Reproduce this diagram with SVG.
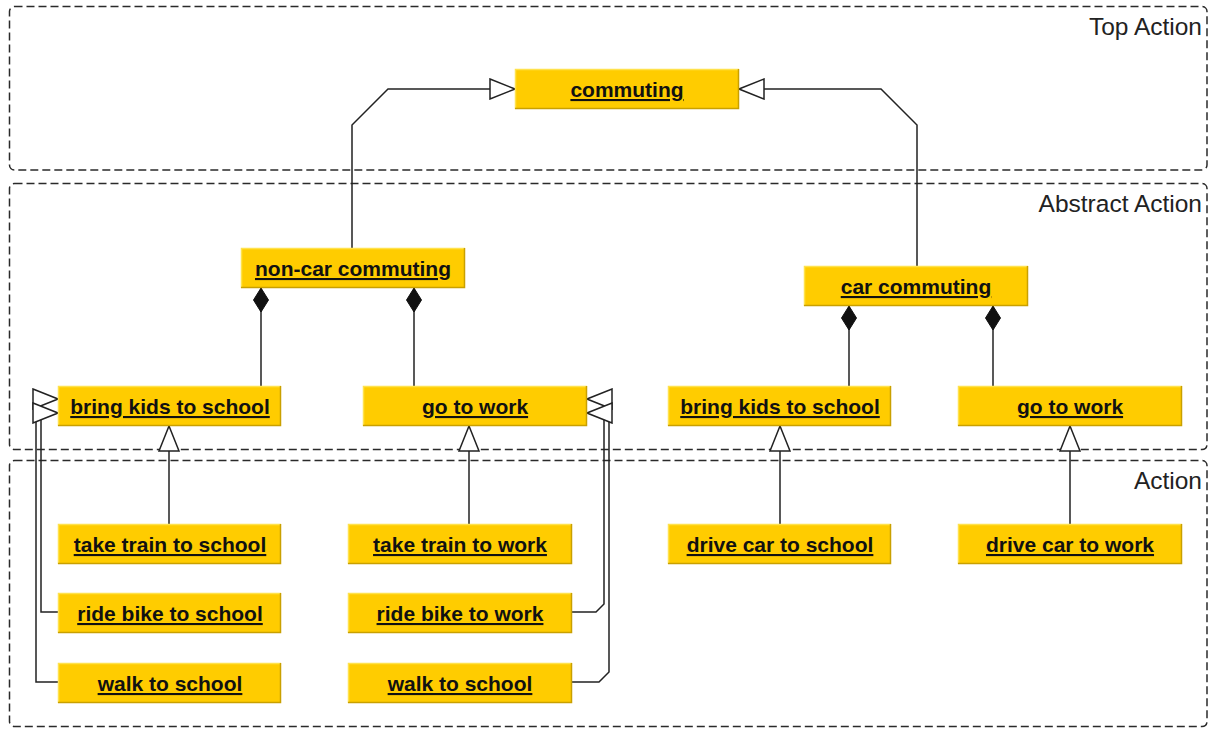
<svg xmlns="http://www.w3.org/2000/svg" width="1211" height="729" viewBox="0 0 1211 729">
<style>
.frame{fill:none;stroke:#2a2a2a;stroke-width:1.5;stroke-dasharray:8 4}
.flabel{font-family:"Liberation Sans",Arial,sans-serif;font-size:24.5px;fill:#222;text-anchor:end}
.box{fill:#FFCC00}
.hl{stroke:#FFE24D;stroke-width:1.5;fill:none}
.sh{stroke:#C9A000;stroke-width:1.5;fill:none}
.lbl{font-family:"Liberation Sans",Arial,sans-serif;font-size:21px;font-weight:bold;fill:#111;text-anchor:middle;text-decoration:underline}
.conn{fill:none;stroke:#222;stroke-width:1.5}
</style>
<defs>
<marker id="gen" viewBox="0 0 27 22" refX="26" refY="11" markerWidth="27" markerHeight="22" markerUnits="userSpaceOnUse" orient="auto">
<path d="M1,1 L26,11 L1,21 Z" fill="#fff" stroke="#222" stroke-width="1.5"/>
</marker>
<marker id="dia" viewBox="0 0 24 18" refX="0" refY="9" markerWidth="24" markerHeight="18" markerUnits="userSpaceOnUse" orient="auto">
<path d="M0,9 L12,1.5 L24,9 L12,16.5 Z" fill="#111" stroke="#111" stroke-width="1"/>
</marker>
</defs>

<g id="frames">
<rect class="frame" x="9.5" y="6.5" width="1197.5" height="163.5" rx="5"/>
<text class="flabel" x="1202" y="35">Top Action</text>
<rect class="frame" x="9.5" y="183.5" width="1197.5" height="266" rx="5"/>
<text class="flabel" x="1202" y="212">Abstract Action</text>
<rect class="frame" x="9.5" y="460.5" width="1197.5" height="266" rx="5"/>
<text class="flabel" x="1202" y="489">Action</text>
</g>

<g id="connectors">
<path class="conn" d="M352,248 V125 L388,89 H515" marker-end="url(#gen)"/>
<path class="conn" d="M917,266 V125 L881,89 H739" marker-end="url(#gen)"/>
<path class="conn" d="M261,288 V386" marker-start="url(#dia)"/>
<path class="conn" d="M414,288 V386" marker-start="url(#dia)"/>
<path class="conn" d="M849,306 V386" marker-start="url(#dia)"/>
<path class="conn" d="M993,306 V386" marker-start="url(#dia)"/>
<path class="conn" d="M169,524 V426" marker-end="url(#gen)"/>
<path class="conn" d="M469,524 V426" marker-end="url(#gen)"/>
<path class="conn" d="M780,524 V426" marker-end="url(#gen)"/>
<path class="conn" d="M1070,524 V426" marker-end="url(#gen)"/>
<path class="conn" d="M58,682 H36 V399 H58" marker-end="url(#gen)"/>
<path class="conn" d="M58,612 H41 V413 H58" marker-end="url(#gen)"/>
<path class="conn" d="M572,682 H599 L609,672 V399 H587" marker-end="url(#gen)"/>
<path class="conn" d="M572,612 H596 L604,604 V413 H587" marker-end="url(#gen)"/>
</g>

<g id="n-commuting"><rect class="box" x="515" y="69" width="224" height="40"/><path class="hl" d="M515.5,109 V69.5 H739"/><path class="sh" d="M515,108.5 H738.5 V69"/><text class="lbl" x="627" y="97">commuting</text></g>
<g id="n-noncar"><rect class="box" x="241" y="248" width="224" height="40"/><path class="hl" d="M241.5,288 V248.5 H465"/><path class="sh" d="M241,287.5 H464.5 V248"/><text class="lbl" x="353" y="276">non-car commuting</text></g>
<g id="n-car"><rect class="box" x="804" y="266" width="224" height="40"/><path class="hl" d="M804.5,306 V266.5 H1028"/><path class="sh" d="M804,305.5 H1027.5 V266"/><text class="lbl" x="916" y="294">car commuting</text></g>
<g id="n-bk1"><rect class="box" x="58" y="386" width="223" height="40"/><path class="hl" d="M58.5,426 V386.5 H281"/><path class="sh" d="M58,425.5 H280.5 V386"/><text class="lbl" x="170" y="414">bring kids to school</text></g>
<g id="n-gw1"><rect class="box" x="363" y="386" width="224" height="40"/><path class="hl" d="M363.5,426 V386.5 H587"/><path class="sh" d="M363,425.5 H586.5 V386"/><text class="lbl" x="475" y="414">go to work</text></g>
<g id="n-bk2"><rect class="box" x="668" y="386" width="223" height="40"/><path class="hl" d="M668.5,426 V386.5 H891"/><path class="sh" d="M668,425.5 H890.5 V386"/><text class="lbl" x="780" y="414">bring kids to school</text></g>
<g id="n-gw2"><rect class="box" x="958" y="386" width="224" height="40"/><path class="hl" d="M958.5,426 V386.5 H1182"/><path class="sh" d="M958,425.5 H1181.5 V386"/><text class="lbl" x="1070" y="414">go to work</text></g>
<g id="n-tts"><rect class="box" x="58" y="524" width="223" height="40"/><path class="hl" d="M58.5,564 V524.5 H281"/><path class="sh" d="M58,563.5 H280.5 V524"/><text class="lbl" x="170" y="552">take train to school</text></g>
<g id="n-rbs"><rect class="box" x="58" y="593" width="223" height="40"/><path class="hl" d="M58.5,633 V593.5 H281"/><path class="sh" d="M58,632.5 H280.5 V593"/><text class="lbl" x="170" y="621">ride bike to school</text></g>
<g id="n-ws1"><rect class="box" x="58" y="663" width="223" height="40"/><path class="hl" d="M58.5,703 V663.5 H281"/><path class="sh" d="M58,702.5 H280.5 V663"/><text class="lbl" x="170" y="691">walk to school</text></g>
<g id="n-ttw"><rect class="box" x="348" y="524" width="224" height="40"/><path class="hl" d="M348.5,564 V524.5 H572"/><path class="sh" d="M348,563.5 H571.5 V524"/><text class="lbl" x="460" y="552">take train to work</text></g>
<g id="n-rbw"><rect class="box" x="348" y="593" width="224" height="40"/><path class="hl" d="M348.5,633 V593.5 H572"/><path class="sh" d="M348,632.5 H571.5 V593"/><text class="lbl" x="460" y="621">ride bike to work</text></g>
<g id="n-ws2"><rect class="box" x="348" y="663" width="224" height="40"/><path class="hl" d="M348.5,703 V663.5 H572"/><path class="sh" d="M348,702.5 H571.5 V663"/><text class="lbl" x="460" y="691">walk to school</text></g>
<g id="n-dcs"><rect class="box" x="668" y="524" width="223" height="40"/><path class="hl" d="M668.5,564 V524.5 H891"/><path class="sh" d="M668,563.5 H890.5 V524"/><text class="lbl" x="780" y="552">drive car to school</text></g>
<g id="n-dcw"><rect class="box" x="958" y="524" width="224" height="40"/><path class="hl" d="M958.5,564 V524.5 H1182"/><path class="sh" d="M958,563.5 H1181.5 V524"/><text class="lbl" x="1070" y="552">drive car to work</text></g>
</svg>
